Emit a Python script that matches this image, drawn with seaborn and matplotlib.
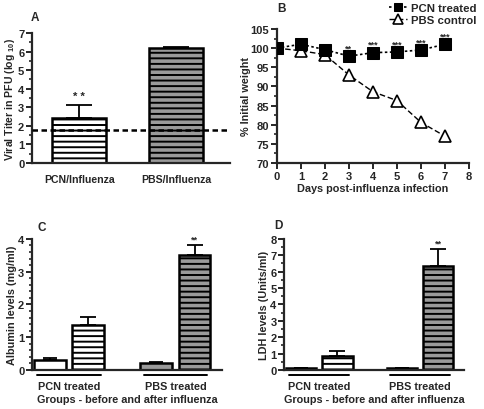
import numpy as np
import pandas as pd
import matplotlib
matplotlib.use('Agg')
import matplotlib.pyplot as plt
from matplotlib.ticker import AutoMinorLocator, MultipleLocator
import seaborn as sns

# ---- data ----
# A: viral titer
groups_a = ['PCN/Influenza', 'PBS/Influenza']
titer = [2.45, 6.2]
titer_err = [0.7, 0.05]
detection_limit = 1.8

# B: weight loss
days = [0, 1, 2, 3, 4, 5, 6, 7]
pcn_weight = [100.0, 101.0, 99.6, 97.9, 98.8, 99.0, 99.5, 101.0]
pbs_weight = [100.0, 99.3, 98.3, 93.0, 88.6, 86.3, 80.6, 77.0]
star_days = [3, 4, 5, 6, 7]
star_text = ['**', '***', '***', '***', '***']

# C / D: before and after influenza
groups_cd = ['PCN treated', 'PBS treated']
timepoints = ['before', 'after']
albumin_before = [0.32, 0.20]
albumin_before_err = [0.05, 0.04]
albumin_after = [1.37, 3.50]
albumin_after_err = [0.25, 0.32]
ldh_before = [0.15, 0.15]
ldh_before_err = [0.0, 0.0]
ldh_after = [0.87, 6.35]
ldh_after_err = [0.27, 1.05]

GRAY = '#9a9a9a'
LAB = 7.8

sns.set_style('ticks')
plt.rcParams['font.family'] = ['Liberation Sans', 'DejaVu Sans']
plt.rcParams['font.weight'] = 'bold'
plt.rcParams['axes.labelweight'] = 'bold'
plt.rcParams['hatch.linewidth'] = 1.4
plt.rcParams['hatch.color'] = 'black'
plt.rcParams['mathtext.fontset'] = 'custom'
plt.rcParams['mathtext.bf'] = 'Liberation Sans:bold'
plt.rcParams['mathtext.rm'] = 'Liberation Sans:bold'
plt.rcParams['mathtext.default'] = 'bf'

fig = plt.figure(figsize=(4.84, 4.10), dpi=100)
ax_a = fig.add_axes([0.066, 0.600, 0.410, 0.317])
ax_b = fig.add_axes([0.572, 0.600, 0.397, 0.327])
ax_c = fig.add_axes([0.066, 0.095, 0.393, 0.320])
ax_d = fig.add_axes([0.587, 0.095, 0.372, 0.320])


def style_axes(ax):
    sns.despine(ax=ax)
    for s in ['left', 'bottom']:
        ax.spines[s].set_linewidth(1.6)
    ax.tick_params(axis='both', which='major', length=4, width=1.4, labelsize=8, pad=1.5)
    ax.tick_params(axis='both', which='minor', length=2.5, width=1.2)


def upper_errbar(ax, bars, err, capsize):
    xs = [b.get_x() + b.get_width() / 2 for b in bars]
    ys = [b.get_height() for b in bars]
    ax.errorbar(xs, ys, yerr=[np.zeros(len(err)), err], fmt='none', ecolor='black',
                elinewidth=1.3, capsize=capsize, capthick=1.3, zorder=1)


# ---- A ----
df_a = pd.DataFrame({'group': groups_a, 'titer': titer})
sns.barplot(data=df_a, x='group', y='titer', ax=ax_a, errorbar=None, width=0.56,
            color='white', edgecolor='black', linewidth=1.8, zorder=2)
bars_a = ax_a.containers[0]
for bar, fc in zip(bars_a, ['white', GRAY]):
    bar.set_facecolor(fc)
    bar.set_hatch('---')
upper_errbar(ax_a, bars_a, titer_err, 9.5)
ax_a.axhline(detection_limit, color='black', lw=1.8, ls=(0, (2.2, 1.4)), zorder=3)
ax_a.text(bars_a[0].get_x() + bars_a[0].get_width() / 2, titer[0] + titer_err[0] + 0.2,
          '* *', ha='center', va='bottom', fontsize=8)
ax_a.set_xlim(-0.49, 1.56)
ax_a.set_ylim(0, 7)
ax_a.yaxis.set_major_locator(MultipleLocator(1))
ax_a.yaxis.set_minor_locator(AutoMinorLocator(2))
ax_a.set_xlabel('')
ax_a.set_ylabel('Viral Titer in PFU (log $_{10}$)', fontsize=7.6, labelpad=1)
style_axes(ax_a)
ax_a.tick_params(axis='x', length=0, pad=8, labelsize=7.6)

# ---- B ----
sns.lineplot(x=days, y=pcn_weight, ax=ax_b, color='black', marker='s', markersize=8,
             linestyle=(0, (1.5, 1.5)), linewidth=1.2, markeredgecolor='black',
             label='PCN treated', zorder=3)
sns.lineplot(x=days, y=pbs_weight, ax=ax_b, color='black', marker='^', markersize=8.5,
             markerfacecolor='white', markeredgecolor='black', markeredgewidth=1.2,
             linestyle=(0, (4, 2)), linewidth=1.0, label='PBS control', zorder=2)
for d, s in zip(star_days, star_text):
    ax_b.text(d, pcn_weight[d] + 1.0, s, ha='center', va='bottom', fontsize=6.5)
ax_b.set_xlim(0, 8)
ax_b.set_ylim(70, 105)
ax_b.xaxis.set_major_locator(MultipleLocator(1))
ax_b.yaxis.set_major_locator(MultipleLocator(5))
ax_b.yaxis.set_minor_locator(AutoMinorLocator(2))
ax_b.set_xlabel('Days post-influenza infection', fontsize=LAB, labelpad=2)
ax_b.set_ylabel('% Initial weight', fontsize=LAB, labelpad=0)
leg = ax_b.legend(loc='upper right', bbox_to_anchor=(1.0, 1.01), bbox_transform=fig.transFigure,
                  frameon=False, handlelength=1.5, handletextpad=0.35, labelspacing=0.15,
                  borderpad=0.2, markerscale=0.8, prop={'weight': 'bold', 'size': 8.2})
style_axes(ax_b)


# ---- C and D ----
def before_after(ax, before, before_err, after, after_err, first_color, ymax,
                 ylabel, star_pad):
    df = pd.DataFrame({
        'group': groups_cd * 2,
        'time': [timepoints[0]] * 2 + [timepoints[1]] * 2,
        'value': list(before) + list(after),
    })
    sns.barplot(data=df, x='group', y='value', hue='time', hue_order=timepoints, ax=ax,
                errorbar=None, width=0.72, palette=['white', 'white'],
                edgecolor='black', linewidth=1.8, legend=False, zorder=2)
    bars_before, bars_after = ax.containers[0], ax.containers[1]
    for bars in (bars_before, bars_after):
        for b in bars:
            c = b.get_x() + b.get_width() / 2
            b.set_width(0.3)
            b.set_x(c - 0.15)
    for b, fc in zip(bars_before, [first_color, GRAY]):
        b.set_facecolor(fc)
    for b, fc in zip(bars_after, ['white', GRAY]):
        b.set_facecolor(fc)
        b.set_hatch('---')
    upper_errbar(ax, bars_before, before_err, 5)
    upper_errbar(ax, bars_after, after_err, 6)
    last = bars_after[1]
    ax.text(last.get_x() + last.get_width() / 2, after[1] + after_err[1] + star_pad, '**',
            ha='center', va='bottom', fontsize=6.5)
    ax.set_xlim(-0.35, 1.44)
    ax.set_ylim(0, ymax)
    ax.yaxis.set_major_locator(MultipleLocator(1))
    ax.set_xlabel('Groups - before and after influenza', fontsize=LAB, labelpad=2)
    ax.set_ylabel(ylabel, fontsize=LAB, labelpad=1)
    style_axes(ax)
    ax.tick_params(axis='x', length=0, pad=8, labelsize=LAB)
    # group underline
    for i in range(len(groups_cd)):
        ax.plot([i - 0.3, i + 0.3], [-0.035, -0.035], color='black', lw=1.4,
                transform=ax.get_xaxis_transform(), clip_on=False)


before_after(ax_c, albumin_before, albumin_before_err, albumin_after, albumin_after_err,
             'white', 4, 'Albumin levels (mg/ml)', 0.05)
ax_c.yaxis.set_minor_locator(AutoMinorLocator(5))
before_after(ax_d, ldh_before, ldh_before_err, ldh_after, ldh_after_err,
             GRAY, 8, 'LDH levels (Units/ml)', 0.1)
ax_d.yaxis.set_minor_locator(AutoMinorLocator(2))

# panel letters
for lab, x, y in [('A', 0.064, 0.955), ('B', 0.573, 0.978), ('C', 0.078, 0.443), ('D', 0.567, 0.448)]:
    fig.text(x, y, lab, fontsize=8.5, fontweight='bold', ha='left', va='center')

fig.savefig('out.png', dpi=100)
